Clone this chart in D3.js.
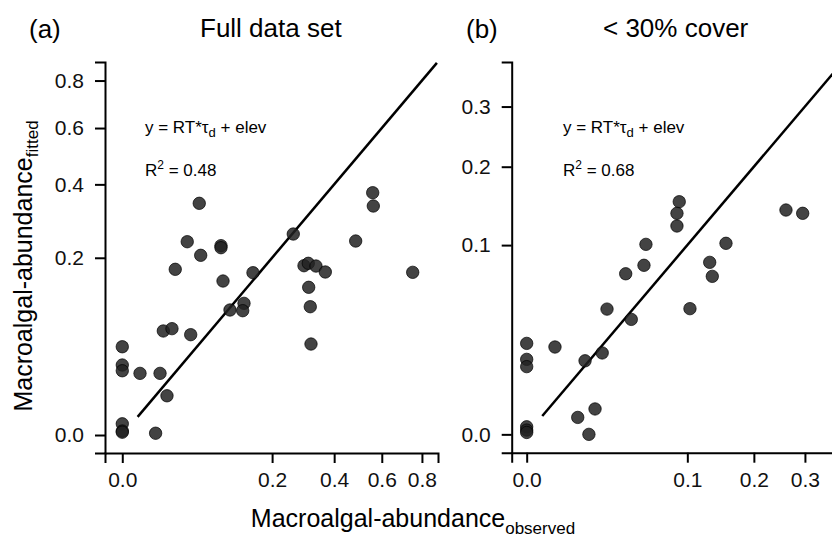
<!DOCTYPE html>
<html>
<head>
<meta charset="utf-8">
<script src="https://cdn.jsdelivr.net/npm/d3@7"></script>
<style>
  body { margin: 0; background: #fff; }
  svg { font-family: "Liberation Sans", Arial, sans-serif; }
</style>
</head>
<body>
<div id="graph"></div>
<script>
// panel (a) - full data set
var obsA = [0.0528, 0.0376, 0.0548, 0.0868, 0.0868, 0.0250, 0.0904, 0.1522, 0.2605, 0.5587,
            0.5614, 0.4854, 0.2942, 0.3083, 0.3343, 0.3672, 0.3096, 0.7515, 0.3149, 0.3173,
            0.1320, 0.1292, 0.1034, 0.0150, 0.0220, 0.0417, 0, 0, 0, 0.0028,
            0.0127, 0.0178, 0, 0, 0, 0.0099];
var fitA = [0.3418, 0.2379, 0.2056, 0.2282, 0.2234, 0.1748, 0.1510, 0.1677, 0.2572, 0.3738,
            0.3339, 0.2396, 0.1825, 0.1877, 0.1818, 0.1692, 0.1389, 0.1685, 0.1048, 0.0527,
            0.1104, 0.0984, 0.0995, 0.0689, 0.0720, 0.0641, 0.0496, 0.0312, 0.0263, 0.0242,
            0.0242, 0.0098, 0.0008, 0.0001, 0.00005, 0.00002];

// panel (b) - < 30% cover
var obsB = [0.0902, 0.0875, 0.0875, 0.2605, 0.2952, 0.0551, 0.1539, 0.0533, 0.1298, 0.0380,
            0.1335, 0.0250, 0.1033, 0.0424, 0, 0.0031, 0.0221, 0.0132, 0, 0,
            0.0181, 0.0101, 0.0150, 0, 0, 0];
var fitB = [0.1511, 0.1364, 0.1212, 0.1405, 0.1364, 0.1008, 0.1019, 0.0798, 0.0826, 0.0720,
            0.0697, 0.0438, 0.0441, 0.0369, 0.0231, 0.0213, 0.0185, 0.0151, 0.0157, 0.0128,
            0.0018, 0.0008, 0, 0.00016, 0.00005, 0.00001];

// 1:1 line ends
var lineA = [0.0021, 0.882];
var lineB = [0.00094, 0.387];

var ticksAx = [0, 0.2, 0.4, 0.6, 0.8];
var ticksAy = [0, 0.2, 0.4, 0.6, 0.8];
var ticksBx = [0, 0.1, 0.2, 0.3];
var ticksBy = [0, 0.1, 0.2, 0.3];

var width = 832, height = 544;
var fmt = d3.format(".1f");

var svg = d3.select("#graph").append("svg")
    .attr("width", width)
    .attr("height", height);

function panel(cfg) {
  var x = d3.scaleSqrt().domain(cfg.xd).range(cfg.xr);
  var y = d3.scaleSqrt().domain(cfg.yd).range(cfg.yr);

  var g = svg.append("g");

  // axes
  var xa = g.append("g")
      .attr("transform", "translate(0," + cfg.yr[0] + ")")
      .call(d3.axisBottom(x).tickValues(cfg.xt).tickFormat(fmt).tickSizeOuter(0).tickSize(10).tickPadding(9));
  var ya = g.append("g")
      .attr("transform", "translate(" + cfg.xr[0] + ",0)")
      .call(d3.axisLeft(y).tickValues(cfg.yt).tickFormat(fmt).tickSizeOuter(0).tickSize(10).tickPadding(11));
  [xa, ya].forEach(function(a) {
    a.selectAll("path, line").attr("stroke", "#000").attr("stroke-width", 2);
    a.selectAll("text").attr("font-size", 21).attr("fill", "#111")
        .attr("font-family", "Liberation Sans, Arial, sans-serif");
  });

  // 1:1 line
  g.append("line")
      .attr("x1", x(cfg.line[0])).attr("y1", y(cfg.line[0]))
      .attr("x2", x(cfg.line[1])).attr("y2", y(cfg.line[1]))
      .attr("stroke", "#000")
      .attr("stroke-width", 2.5);

  // points
  g.selectAll("circle")
      .data(cfg.obs.map(function(d, i) { return [d, cfg.fit[i]]; }))
    .enter().append("circle")
      .attr("cx", function(d) { return x(d[0]); })
      .attr("cy", function(d) { return y(d[1]); })
      .attr("r", 6.2)
      .attr("fill", "#222")
      .attr("fill-opacity", 0.85)
      .attr("stroke", "#000")
      .attr("stroke-opacity", 0.7)
      .attr("stroke-width", 1);

  // panel tag and title
  g.append("text").attr("x", cfg.tagX).attr("y", 38).attr("font-size", 26).text(cfg.tag);
  g.append("text").attr("x", cfg.titleX).attr("y", 37).attr("font-size", 26).text(cfg.title);

  // equation
  var eq = g.append("text").attr("x", cfg.eqX).attr("y", 133).attr("font-size", 17);
  eq.append("tspan").text("y = RT*\u03c4");
  eq.append("tspan").attr("dy", 4).attr("font-size", 13).text("d");
  eq.append("tspan").attr("dy", -4).text(" + elev");

  var r2 = g.append("text").attr("x", cfg.eqX).attr("y", 176).attr("font-size", 17);
  r2.append("tspan").text("R");
  r2.append("tspan").attr("dy", -7).attr("font-size", 12).text("2");
  r2.append("tspan").attr("dy", 7).text(" = " + cfg.r2);
}

panel({
  xd: [-0.00266, 0.8881], xr: [105, 438],
  yd: [-0.00206, 0.8859], yr: [453, 62],
  xt: ticksAx, yt: ticksAy,
  obs: obsA, fit: fitA, line: lineA,
  tag: "(a)", tagX: 29, title: "Full data set", titleX: 200,
  eqX: 145, r2: "0.48"
});

panel({
  xd: [-0.00087, 0.3804], xr: [511.7, 840],
  yd: [-0.00094, 0.3871], yr: [452.7, 62],
  xt: ticksBx, yt: ticksBy,
  obs: obsB, fit: fitB, line: lineB,
  tag: "(b)", tagX: 466, title: "< 30% cover", titleX: 603,
  eqX: 563, r2: "0.68"
});

// shared axis titles
var yl = svg.append("text")
    .attr("transform", "translate(32,266) rotate(-90)")
    .attr("text-anchor", "middle")
    .attr("font-size", 25);
yl.append("tspan").text("Macroalgal-abundance");
yl.append("tspan").attr("dy", 6).attr("font-size", 17).text("fitted");

var xl = svg.append("text")
    .attr("x", 413)
    .attr("y", 527)
    .attr("text-anchor", "middle")
    .attr("font-size", 25);
xl.append("tspan").text("Macroalgal-abundance");
xl.append("tspan").attr("dy", 7).attr("font-size", 17).text("observed");
</script>
</body>
</html>
